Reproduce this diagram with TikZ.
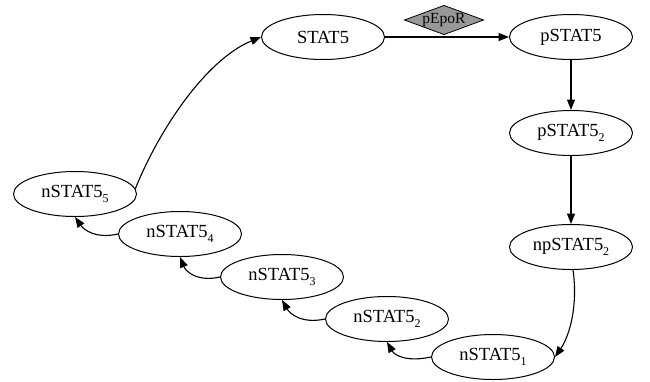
\documentclass[tikz,border=0pt]{standalone}
\usepackage{fontspec}
\setmainfont{Liberation Serif}
\usetikzlibrary{shapes.geometric,arrows.meta}
\definecolor{dgray}{RGB}{152,152,152}
\newcommand{\sbs}[1]{\raisebox{-5pt}{\fontsize{12}{12}\selectfont #1}}
\begin{document}
\begin{tikzpicture}[x=1pt,y=-1pt,
  state/.style={draw,ellipse,line width=1pt,minimum width=123pt,minimum height=45pt,inner sep=0pt,font=\fontsize{18.5}{20}\selectfont},
  enz/.style={draw,diamond,aspect=2.7,line width=0.8pt,fill=dgray,inner sep=0pt,minimum width=72pt,minimum height=26pt,font=\fontsize{15.5}{16}\selectfont},
  conn/.style={line width=1.1pt,-{Triangle[length=10.5pt,width=8pt]}}]
\useasboundingbox (0,0) rectangle (650,381);
\node[state] (stat5) at (323,37) {STAT5};
\node[state] (pstat5) at (571,37) {pSTAT5};
\node[state] (pstat52) at (571,133) {pSTAT5\sbs{2}};
\node[state] (npstat52) at (571,247) {npSTAT5\sbs{2}};
\node[state] (n1) at (493,357) {nSTAT5\sbs{1}};
\node[state] (n2) at (387,319) {nSTAT5\sbs{2}};
\node[state] (n3) at (282,277) {nSTAT5\sbs{3}};
\node[state] (n4) at (180,234) {nSTAT5\sbs{4}};
\node[state] (n5) at (75,194) {nSTAT5\sbs{5}};
\node[enz] (epor) at (444,20) {pEpoR};
\draw[conn] (n5.5) .. controls (158,132) and (205,60) .. (stat5.west);
\draw[conn] (stat5.east) -- (pstat5.west);
\draw[conn] (pstat5.south) -- (pstat52.north);
\draw[conn] (pstat52.south) -- (npstat52.north);
\draw[conn] (npstat52.-85) .. controls (578,305) and (570,335) .. (n1.east);
\draw[conn] (n1.west) .. controls (408,362) and (395,356) .. (n2.south);
\draw[conn] (n2.west) .. controls (302,324) and (290,314) .. (n3.south);
\draw[conn] (n3.west) .. controls (198,282) and (186,272) .. (n4.south);
\draw[conn] (n4.west) .. controls (96,239) and (84,230) .. (n5.south);
\end{tikzpicture}
\end{document}
